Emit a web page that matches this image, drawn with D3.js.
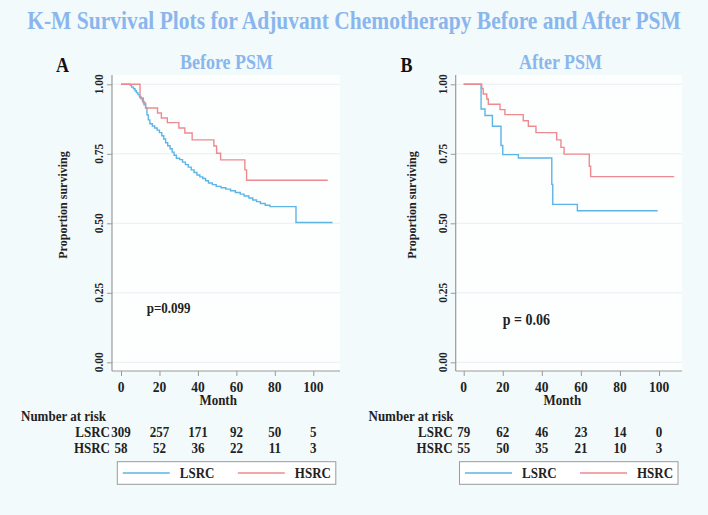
<!DOCTYPE html>
<html>
<head>
<meta charset="utf-8">
<script src="https://cdn.jsdelivr.net/npm/d3@7"></script>
<style>
  html, body { margin: 0; padding: 0; background: #f3fafb; }
  svg { display: block; }
  text { font-family: "Liberation Serif", "Times New Roman", serif; font-weight: bold; }
</style>
</head>
<body>
<svg id="chart" width="708" height="515"></svg>
<script>
// ---------------- data ----------------
const chartTitle = "K-M Survival Plots for Adjuvant Chemotherapy Before and After PSM";
const panelTitles = ["Before PSM", "After PSM"];
const panelLetters = ["A", "B"];
const groups = ["LSRC", "HSRC"];
const timeTicks = [0, 20, 40, 60, 80, 100];
const survTicks = [0, 0.25, 0.5, 0.75, 1];
const pValues = ["p=0.099", "p = 0.06"];

// Kaplan-Meier step points [month, survival]
const beforeLSRC = [[0,1],[4.7,0.997],[5.5,0.99],[6.5,0.984],[7.3,0.977],[8,0.97],[8.8,0.963],[9.6,0.955],
  [10.4,0.948],[11.2,0.938],[12,0.926],[12.8,0.915],[13.5,0.89],[14.2,0.872],[15,0.858],[16.3,0.85],
  [17.5,0.843],[18.8,0.835],[20,0.826],[21.2,0.815],[22.2,0.803],[23.2,0.79],[24.3,0.779],[25.5,0.768],
  [26.6,0.756],[27.6,0.745],[28.8,0.734],[30.5,0.729],[32,0.72],[33.5,0.711],[35,0.702],[36.5,0.692],
  [38,0.683],[39.5,0.674],[41,0.667],[42.5,0.661],[44,0.653],[45.5,0.645],[47.5,0.639],[49.5,0.633],
  [52,0.628],[54.5,0.623],[57,0.617],[59.5,0.611],[62,0.605],[64,0.598],[66.5,0.591],[68.5,0.584],
  [70.5,0.578],[72.5,0.571],[75,0.565],[77.5,0.56],[91,0.503],[110,0.503]];
const beforeHSRC = [[0,1],[9.9,0.951],[11.6,0.933],[12.8,0.915],[19,0.897],[21,0.879],[24.1,0.862],
  [30.1,0.843],[33.2,0.825],[37,0.8],[48.3,0.778],[49.7,0.752],[51.8,0.728],[64.4,0.692],[65.3,0.655],[107.5,0.655]];
const afterLSRC = [[0,1],[8.9,0.911],[10.9,0.888],[14.7,0.849],[19.1,0.78],[20,0.747],[28,0.735],
  [45.1,0.64],[45.6,0.568],[58.2,0.545],[99.3,0.545]];
const afterHSRC = [[0,1],[9.2,0.985],[10,0.965],[11.8,0.947],[12.6,0.928],[18.6,0.909],[21.1,0.891],
  [30.5,0.869],[33.1,0.849],[37,0.826],[47.6,0.8],[49.8,0.773],[51.4,0.749],[64.3,0.705],[65,0.668],[107.8,0.668]];

// Number at risk
const riskBeforeLSRC = [309, 257, 171, 92, 50, 5];
const riskBeforeHSRC = [58, 52, 36, 22, 11, 3];
const riskAfterLSRC = [79, 62, 46, 23, 14, 0];
const riskAfterHSRC = [55, 50, 35, 21, 10, 3];

// ---------------- styling / layout ----------------
const colors = { LSRC: "#5db5e6", HSRC: "#ee8a8f" };
const titleBlue = "#8ab6ee";
const STRETCH = 1.15; // glyphs in the reference are slightly tall

const panels = [
  { curves: { LSRC: beforeLSRC, HSRC: beforeHSRC }, risk: { LSRC: riskBeforeLSRC, HSRC: riskBeforeHSRC },
    left: 112, right: 340, x0: 121, x100: 313.3, letterX: 56, titleX: 226.5, pX: 146.7, pY: 313, pSize: 13,
    ylabX: 66.5, tickLabX: 102.5, riskTitleX: 21, legendX: 117.3 },
  { curves: { LSRC: afterLSRC, HSRC: afterHSRC }, risk: { LSRC: riskAfterLSRC, HSRC: riskAfterHSRC },
    left: 455.7, right: 682, x0: 463.7, x100: 659, letterX: 400.5, titleX: 560.5, pX: 502.7, pY: 324.5, pSize: 14,
    ylabX: 415.5, tickLabX: 446.5, riskTitleX: 368.5, legendX: 459.5 }
];
const plotTop = 75, plotBottom = 371;
const yTop = 84.3, yBottom = 362.3;

const svg = d3.select("#chart");
svg.append("rect").attr("width", 708).attr("height", 515).attr("fill", "#f3fafb");

function txt(sel, x, y, s, size, anchor, fill) {
  return sel.append("text")
    .attr("transform", `translate(${x},${y}) scale(1,${STRETCH})`)
    .attr("text-anchor", anchor || "start")
    .attr("font-size", size).attr("fill", fill || "#222").text(s);
}

txt(svg, 354, 29, chartTitle, 21.5, "middle", titleBlue);

panels.forEach((p, i) => {
  const x = d3.scaleLinear().domain([0, 100]).range([p.x0, p.x100]);
  const y = d3.scaleLinear().domain([0, 1]).range([yBottom, yTop]);
  const g = svg.append("g");

  // plot background
  g.append("rect").attr("x", p.left).attr("y", plotTop)
    .attr("width", p.right - p.left).attr("height", plotBottom - plotTop).attr("fill", "#fdfefe");

  // grid
  g.selectAll(".grid").data(survTicks).join("line")
    .attr("x1", p.left).attr("x2", p.right)
    .attr("y1", d => y(d)).attr("y2", d => y(d))
    .attr("stroke", "#e6f0f5").attr("stroke-width", 1);

  // y axis
  const yAxis = g.append("g").attr("transform", `translate(${p.left},0)`)
    .call(d3.axisLeft(y).tickValues(survTicks).tickSize(5).tickFormat(""));
  yAxis.select(".domain").remove();
  yAxis.selectAll("line").attr("stroke", "#9a9a9a");
  g.append("line").attr("x1", p.left).attr("x2", p.left).attr("y1", plotTop).attr("y2", plotBottom)
    .attr("stroke", "#9a9a9a").attr("stroke-width", 1.2);
  g.selectAll(".ytl").data(survTicks).join("text")
    .attr("transform", d => `translate(${p.tickLabX},${y(d)}) rotate(-90)`)
    .attr("text-anchor", "middle").attr("font-size", 11.5).attr("fill", "#222")
    .text(d => d3.format(".2f")(d));

  // x axis
  const xAxis = g.append("g").attr("transform", `translate(0,${plotBottom})`)
    .call(d3.axisBottom(x).tickValues(timeTicks).tickSize(5).tickFormat(""));
  xAxis.select(".domain").remove();
  xAxis.selectAll("line").attr("stroke", "#9a9a9a");
  g.append("line").attr("x1", p.left).attr("x2", p.right).attr("y1", plotBottom).attr("y2", plotBottom)
    .attr("stroke", "#9a9a9a").attr("stroke-width", 1.2);
  timeTicks.forEach(t => txt(g, x(t), 391.5, t, 13.5, "middle"));
  txt(g, (x(0) + x(100)) / 2 + 1, 405, "Month", 13, "middle");

  // y label
  g.append("text").attr("transform", `translate(${p.ylabX},205) rotate(-90)`)
    .attr("text-anchor", "middle").attr("font-size", 12).attr("fill", "#222").text("Proportion surviving");

  // letter + subtitle
  txt(g, p.letterX, 71.5, panelLetters[i], 18, "start", "#111");
  txt(g, p.titleX, 68.5, panelTitles[i], 18, "middle", titleBlue);

  // curves
  const line = d3.line().x(d => x(d[0])).y(d => y(d[1])).curve(d3.curveStepAfter);
  groups.forEach(gr => {
    g.append("path").datum(p.curves[gr]).attr("d", line)
      .attr("fill", "none").attr("stroke", colors[gr]).attr("stroke-width", 1.4);
  });

  // p-value
  txt(g, p.pX, p.pY, pValues[i], p.pSize);

  // number at risk
  txt(g, p.riskTitleX, 421, "Number at risk", 13);
  groups.forEach((gr, gi) => {
    const ry = 437 + gi * 16;
    txt(g, x(0) - 11, ry, gr, 13, "end");
    p.risk[gr].forEach((v, k) => txt(g, x(timeTicks[k]), ry, v, 13, "middle"));
  });

  // legend
  const lg = g.append("g").attr("transform", `translate(${p.legendX},461.7)`);
  lg.append("rect").attr("width", 218.5).attr("height", 22.6).attr("fill", "#ffffff")
    .attr("stroke", "#9a9a9a").attr("stroke-width", 1);
  groups.forEach((gr, gi) => {
    const ox = gi * 115;
    lg.append("line").attr("x1", 5.5 + ox).attr("x2", 52.5 + ox).attr("y1", 11.3).attr("y2", 11.3)
      .attr("stroke", colors[gr]).attr("stroke-width", 1.4);
    txt(lg, 62.5 + ox, 16, gr, 13);
  });
});
</script>
</body>
</html>
